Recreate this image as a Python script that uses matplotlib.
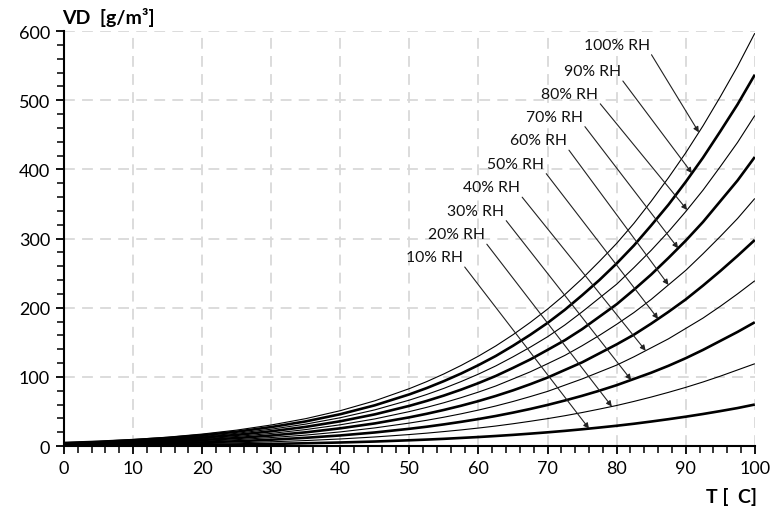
import numpy as np
import matplotlib
matplotlib.use("Agg")
import matplotlib.pyplot as plt
from matplotlib.ticker import MultipleLocator

plt.rcParams['font.family'] = ['Lato', 'DejaVu Sans']

# temperature [C]
temps = [0, 5, 10, 15, 20, 25, 30, 35, 40, 45, 50, 52.5, 55, 57.5, 60, 62.5, 65, 67.5,
         70, 72.5, 75, 77.5, 80, 82.5, 85, 87.5, 90, 92.5, 95, 97.5, 100]

# vapour density [g/m3], one list per relative humidity
vd_100 = [4.8, 6.8, 9.4, 12.8, 17.3, 23.0, 30.4, 39.6, 51.1, 65.4, 83.0, 93.1, 104.3, 116.6, 130, 144.7,
          161, 178.8, 198, 219, 242, 267, 293, 322, 354, 388, 424, 463, 505, 549, 597]
vd_90 = [4.4, 6.1, 8.5, 11.5, 15.6, 20.7, 27.4, 35.6, 46.0, 58.9, 74.7, 83.8, 93.9, 104.9, 117, 130.2,
         145, 160.9, 178, 197, 218, 240, 264, 290, 319, 349, 382, 417, 455, 494, 537]
vd_80 = [3.9, 5.4, 7.5, 10.2, 13.8, 18.4, 24.3, 31.7, 40.9, 52.3, 66.4, 74.5, 83.4, 93.3, 104, 115.8,
         129, 143, 158, 175, 194, 214, 234, 258, 283, 310, 339, 370, 404, 439, 478]
vd_70 = [3.4, 4.8, 6.6, 9.0, 12.1, 16.1, 21.3, 27.7, 35.8, 45.8, 58.1, 65.2, 73.0, 81.6, 91, 101.3,
         113, 125.2, 139, 153, 169, 187, 205, 226, 248, 272, 297, 324, 354, 384, 418]
vd_60 = [2.9, 4.1, 5.6, 7.7, 10.4, 13.8, 18.2, 23.8, 30.7, 39.2, 49.8, 55.9, 62.6, 70.0, 78, 86.8,
         97, 107.3, 119, 131, 145, 160, 176, 193, 212, 233, 254, 278, 303, 329, 358]
vd_50 = [2.4, 3.4, 4.7, 6.4, 8.7, 11.5, 15.2, 19.8, 25.6, 32.7, 41.5, 46.6, 52.2, 58.3, 65, 72.4,
         80.5, 89.4, 99, 110, 121, 134, 147, 161, 177, 194, 212, 232, 253, 275, 298]
vd_40 = [1.9, 2.7, 3.8, 5.1, 6.9, 9.2, 12.2, 15.8, 20.4, 26.2, 33.2, 37.2, 41.7, 46.6, 52, 57.9,
         64.4, 71.5, 79, 88, 97, 107, 117, 129, 142, 155, 170, 185, 202, 220, 239]
vd_30 = [1.5, 2.0, 2.8, 3.8, 5.2, 6.9, 9.1, 11.9, 15.3, 19.6, 24.9, 27.9, 31.3, 35.0, 39, 43.4,
         48.3, 53.6, 59.4, 65.8, 72.6, 80, 88, 97, 106, 116, 127, 139, 152, 165, 179]
vd_20 = [1.0, 1.4, 1.9, 2.6, 3.5, 4.6, 6.1, 7.9, 10.2, 13.1, 16.6, 18.6, 20.9, 23.3, 26, 28.9,
         32.2, 35.8, 39.6, 43.8, 48.4, 53.4, 58.6, 64.5, 70.8, 77.6, 84.8, 92.6, 101, 110, 119]
vd_10 = [0.5, 0.7, 0.9, 1.3, 1.7, 2.3, 3.0, 4.0, 5.1, 6.5, 8.3, 9.3, 10.4, 11.7, 13, 14.5,
         16.1, 17.9, 19.8, 21.9, 24.2, 26.7, 29.3, 32.2, 35.4, 38.8, 42.4, 46.3, 50.5, 54.9, 60]

labels = ["10% RH", "20% RH", "30% RH", "40% RH", "50% RH",
          "60% RH", "70% RH", "80% RH", "90% RH", "100% RH"]
curves = [vd_10, vd_20, vd_30, vd_40, vd_50, vd_60, vd_70, vd_80, vd_90, vd_100]

# where each arrow hits its curve (T) and where the label sits (right end of text)
arrow_t = [76.0, 79.3, 82.1, 84.2, 86.0, 87.5, 88.9, 90.2, 90.9, 91.9]
label_x = [57.7, 60.9, 63.7, 66.0, 69.5, 72.8, 75.1, 77.3, 80.6, 84.8]
label_y = [273, 306, 340, 374, 408, 442, 476, 509, 542, 580]

fig = plt.figure(figsize=(7.71, 5.10), dpi=100)
ax = fig.add_axes([0.083, 0.1235, 0.896, 0.8135])

for i, vals in enumerate(curves):
    lw = 1.9 if i % 2 == 0 else 0.8
    ax.plot(temps, vals, color="black", lw=lw, solid_capstyle="butt", zorder=3)

for i, lab in enumerate(labels):
    yt = np.interp(arrow_t[i], temps, curves[i])
    ax.annotate(lab, xy=(arrow_t[i], yt), xytext=(label_x[i], label_y[i]),
                ha="right", va="center", fontsize=11.3, color="#111111",
                arrowprops=dict(arrowstyle="-|>", color="#222222", lw=0.8,
                                mutation_scale=8, shrinkA=0, shrinkB=0,
                                relpos=(1.0, 0.0)),
                zorder=4)

ax.set_xlim(0, 100)
ax.set_ylim(0, 600)
ax.xaxis.set_major_locator(MultipleLocator(10))
ax.xaxis.set_minor_locator(MultipleLocator(2))
ax.yaxis.set_major_locator(MultipleLocator(100))
ax.yaxis.set_minor_locator(MultipleLocator(20))

ax.grid(True, which="major", color="#d9d9d9", lw=1.3, dashes=(6, 4))
ax.set_axisbelow(True)

for s in ["top", "right"]:
    ax.spines[s].set_visible(False)
for s in ["left", "bottom"]:
    ax.spines[s].set_linewidth(1.5)
    ax.spines[s].set_color("black")

ax.tick_params(which="major", direction="out", length=6, width=1.3, labelsize=13, pad=4)
ax.tick_params(which="minor", direction="out", length=5, width=1.1)

fig.text(0.081, 0.965, "VD  [g/m³]", fontsize=14, fontweight="bold", ha="left", va="center")
fig.text(0.982, 0.025, "T [  C]", fontsize=14, fontweight="bold", ha="right", va="center")

fig.savefig("out.png", dpi=100)
